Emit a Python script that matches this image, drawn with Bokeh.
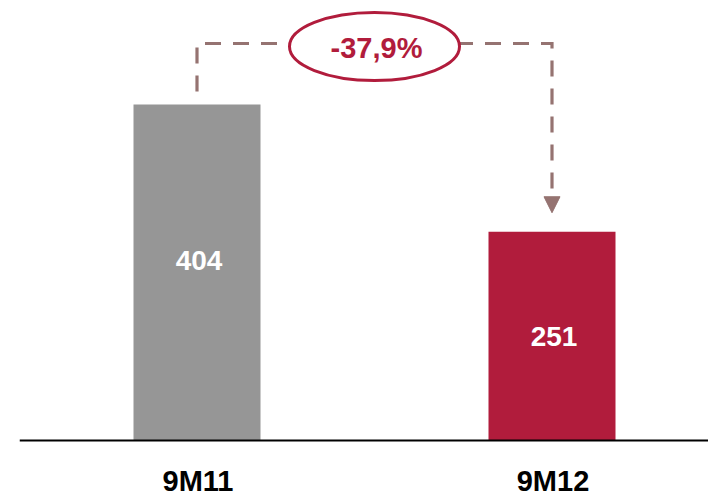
from bokeh.plotting import figure
from bokeh.models import Range1d, Arrow, NormalHead, ColumnDataSource, Span
from bokeh.core.properties import value
from bokeh.embed import file_html
from bokeh.resources import INLINE

# ---- data ----
categories = ["9M11", "9M12"]
values = [404, 251]
change_label = "-37,9%"

# ---- style ----
bar_colors = ["#969696", "#B11C3C"]
mauve = "#957371"
crimson = "#B11C3C"
FONT = "Liberation Sans"

W, H = 708, 496
left_border = 19
baseline_px = 440
frame_w = W - left_border
bar_step_px = 355.0
x_pos = [0.5 + i for i in range(len(categories))]
scale = 336 / 404.0  # px per unit


def px(dy):
    return dy / scale


p = figure(width=W, height=H, output_backend="svg", toolbar_location=None,
           x_range=Range1d(0, frame_w / bar_step_px),
           y_range=Range1d(-px(H - baseline_px), px(baseline_px)),
           x_axis_location=None, y_axis_location=None,
           min_border_left=left_border, min_border_right=0,
           min_border_top=0, min_border_bottom=0)
p.grid.visible = False
p.outline_line_color = None
p.background_fill_color = "white"
p.border_fill_color = "white"

src = ColumnDataSource(dict(x=x_pos, top=values, color=bar_colors, cat=categories,
                            lbl=[str(v) for v in values],
                            ly=[v / 2 + px(d) for v, d in zip(values, [12, 0])]))
p.vbar(x="x", top="top", width=127 / bar_step_px, bottom=0, color="color",
       line_color=None, source=src)
p.text(x="x", y="ly", text="lbl", source=src, text_color="white",
       text_font=value(FONT), text_font_style="bold", text_font_size="28px",
       text_align="center", text_baseline="middle", x_offset=2)

# baseline and category labels
p.add_layout(Span(location=0, dimension="width", line_color="black", line_width=2))
p.text(x="x", y=-px(40), text="cat", source=src, text_color="black",
       text_font=value(FONT), text_font_style="bold", text_font_size="29px",
       text_align="center", text_baseline="middle", x_offset=1)

# connector
x1, x2 = x_pos
top_y = max(values) + px(61)
tip_y = values[1] + px(19)
base_y = tip_y + px(16)
p.line([x1, x1, x2, x2], [values[0] + px(13), top_y, top_y, base_y],
       line_color=mauve, line_width=3.2, line_dash="16 12", line_join="miter")
p.add_layout(Arrow(end=NormalHead(size=16, fill_color=mauve, line_color=mauve, line_width=1),
                   x_start=x2, y_start=base_y, x_end=x2, y_end=tip_y,
                   line_alpha=0))

p.ellipse(x=[(x1 + x2) / 2], y=[top_y - px(3)], width=170, height=68,
          width_units="screen", height_units="screen",
          fill_color="white", line_color=crimson, line_width=3)
p.text(x=[(x1 + x2) / 2], y=[top_y - px(4.5)], text=[change_label], text_color=crimson,
       text_font=value(FONT), text_font_style="bold", text_font_size="29px",
       text_align="center", text_baseline="middle", x_offset=2)

open("out.html", "w").write(file_html(p, INLINE))
